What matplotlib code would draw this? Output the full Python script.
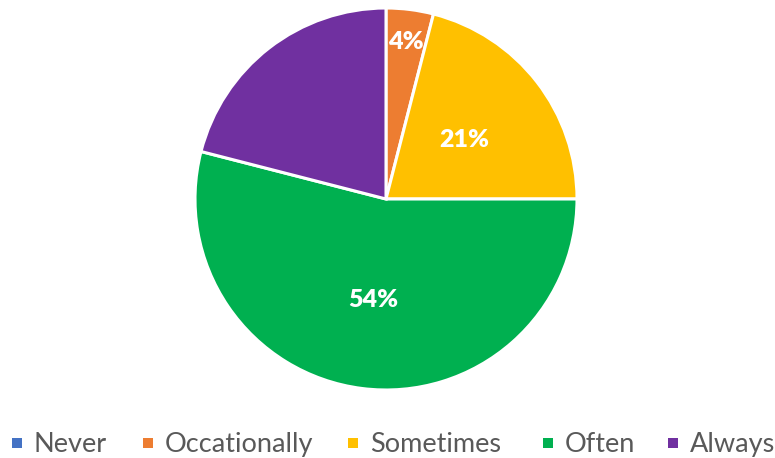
import numpy as np
import matplotlib
matplotlib.use("Agg")
import matplotlib.pyplot as plt
from matplotlib.patches import Rectangle

categories = ["Never", "Occationally", "Sometimes", "Often", "Always"]
shares = [0, 4, 21, 54, 21]
show_label = [False, True, True, True, False]
colors = ["#4472C4", "#ED7D31", "#FFC000", "#00B050", "#7030A0"]

W, H = 775, 458
fig = plt.figure(figsize=(W / 100, H / 100), dpi=100)
cx, cy, r = 386, 199, 191
ax = fig.add_axes([(cx - r) / W, (H - cy - r) / H, 2 * r / W, 2 * r / H])

wedges, _ = ax.pie(shares, colors=colors, startangle=90, counterclock=False,
                   radius=1.0, wedgeprops=dict(edgecolor="white", linewidth=2.2))
ax.set_xlim(-1, 1)
ax.set_ylim(-1, 1)
ax.set_aspect("equal")
ax.axis("off")

# percentage labels, small slices pushed toward the rim
for w, v, show in zip(wedges, shares, show_label):
    if not show:
        continue
    mid = np.deg2rad((w.theta1 + w.theta2) / 2)
    dist = 0.84 if v < 8 else 0.52
    ax.text(dist * np.cos(mid), dist * np.sin(mid), f"{v}%", ha="center",
            va="center_baseline", color="white", fontsize=18,
            fontweight="heavy", family="Lato")

# legend row along the bottom
sq_x = [12, 143, 348, 543, 668]
sq = 10
for x, c, name in zip(sq_x, colors, categories):
    fig.patches.append(Rectangle((x / W, (H - 448) / H), sq / W, sq / H,
                                 transform=fig.transFigure, facecolor=c,
                                 edgecolor="none"))
    fig.text((x + 22) / W, (H - 452) / H, name, ha="left", va="baseline",
             color="#595959", fontsize=19.5, family="Lato")

fig.savefig("out.png", dpi=100)
